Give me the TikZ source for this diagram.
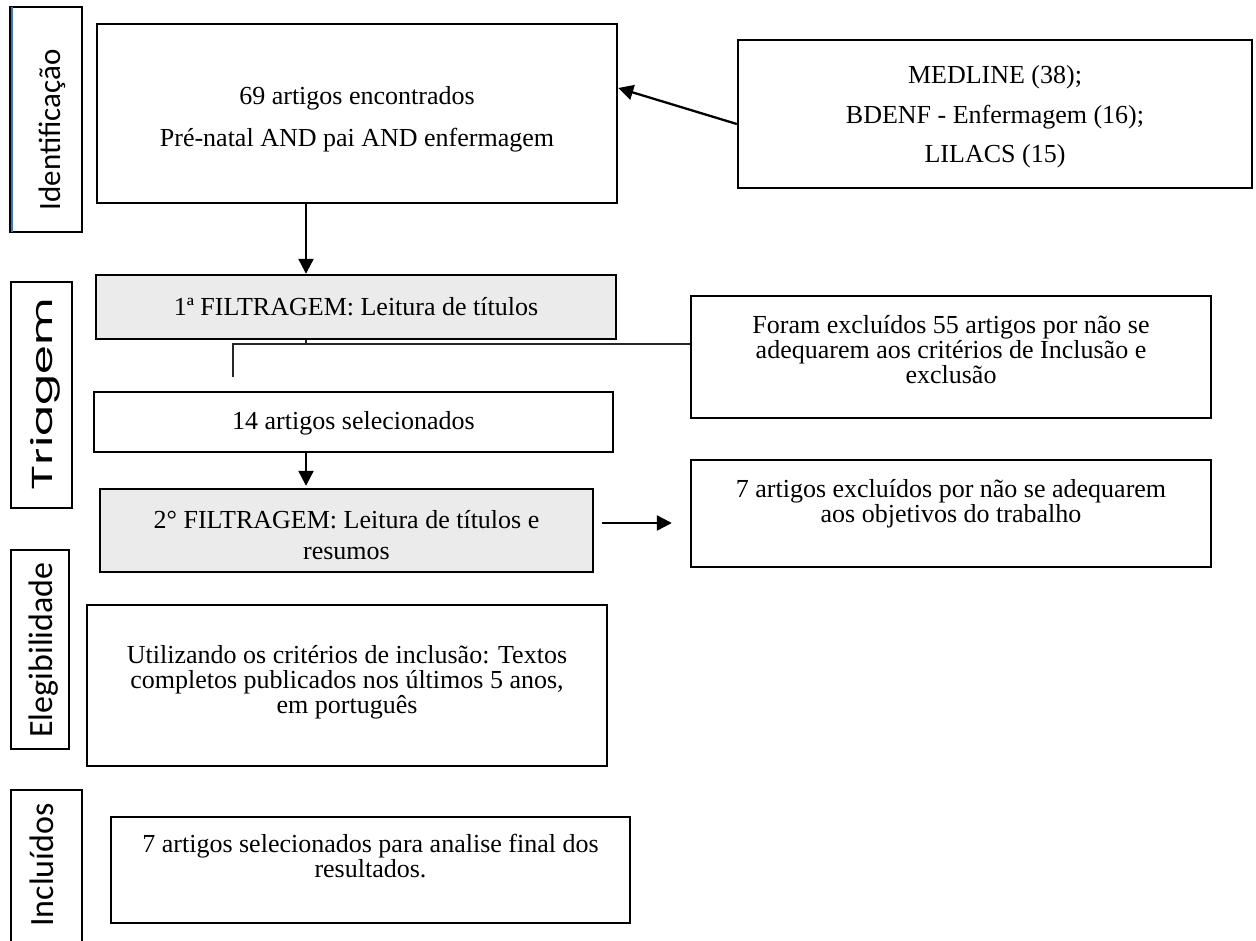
\documentclass[tikz,border=0pt]{standalone}
\usepackage{fontspec}
\setmainfont{Liberation Serif}
\newfontfamily\labelfont{Carlito}
\newfontfamily\roundfont{Poppins}
\usetikzlibrary{arrows.meta,calc}

\definecolor{filtergray}{RGB}{235,235,235}
\definecolor{edgeblue}{RGB}{68,114,196}

\tikzset{
  box/.style={draw, line width=2.4pt, rectangle, inner sep=0pt},
  filterbox/.style={box, fill=filtergray},
  stagebox/.style={draw, line width=2.2pt, rectangle, inner sep=0pt},
  txt/.style={font=\fontsize{26}{29}\selectfont, inner sep=0pt, anchor=base,
              text height=16pt, text depth=5pt},
  stagetxt/.style={inner sep=0pt, anchor=base, rotate=90},
  arr/.style={line width=2.3pt, -{Triangle[length=15pt,width=15pt]}},
  conn/.style={line width=1.5pt, draw=black!85}
}

\begin{document}
\begin{tikzpicture}[x=1pt, y=-1pt]
\useasboundingbox (0,0) rectangle (1256,940);
\clip (0,0) rectangle (1256,940);

% ---- stage labels on the left ----
\node[stagebox, minimum width=72pt, minimum height=225pt] (stId) at (46,119.5) {};
\draw[edgeblue, line width=1.6pt] ($(stId.north west)+(2.8,1.5)$) -- ($(stId.south west)+(2.8,-1.5)$);
\node[stagetxt] (stIdT) at (60,130) {\labelfont\fontsize{31}{34}\selectfont Identificação};

\node[stagebox, minimum width=61pt, minimum height=226pt] (stTr) at (41.5,395) {};
\node[stagetxt] (stTrT) at (52,394) {\resizebox{192pt}{22pt}{\roundfont Triagem}};

\node[stagebox, minimum width=58pt, minimum height=199pt] (stEl) at (40,649.5) {};
\node[stagetxt] (stElT) at (52,650) {\labelfont\fontsize{34}{36}\selectfont Elegibilidade};

\node[stagebox, minimum width=71pt, minimum height=160pt] (stIn) at (46.5,870) {};
\node[stagetxt] (stInT) at (53,865) {\labelfont\fontsize{34}{36}\selectfont Incluídos};

% ---- flow boxes ----
\node[box, minimum width=520pt, minimum height=179pt] (found) at (357,113.5) {};
\node[txt] (foundA) at (357,104) {69 artigos encontrados};
\node[txt] (foundB) at (357,146) {Pré-natal AND pai AND enfermagem};

\node[box, minimum width=514pt, minimum height=148pt] (bases) at (995,114) {};
\node[txt] (basesA) at (995,83) {MEDLINE (38);};
\node[txt] (basesB) at (995,123) {BDENF - Enfermagem (16);};
\node[txt] (basesC) at (995,162) {LILACS (15)};

\node[filterbox, minimum width=520pt, minimum height=64pt] (filt1) at (356,307) {};
\node[txt] (filt1T) at (356,315) {1ª FILTRAGEM: Leitura de títulos};

\node[box, minimum width=520pt, minimum height=122pt] (excl1) at (951,357) {};
\node[txt] (excl1A) at (951,333) {Foram excluídos 55 artigos por não se};
\node[txt] (excl1B) at (951,358) {adequarem aos critérios de Inclusão e};
\node[txt] (excl1C) at (951,383) {exclusão};

\node[box, minimum width=519pt, minimum height=60pt] (sel14) at (353.5,422) {};
\node[txt] (sel14T) at (353.5,429) {14 artigos selecionados};

\node[filterbox, minimum width=493pt, minimum height=83pt] (filt2) at (346.5,530.5) {};
\node[txt] (filt2A) at (346.5,528) {2° FILTRAGEM: Leitura de títulos e};
\node[txt] (filt2B) at (346.5,559) {resumos};

\node[box, minimum width=520pt, minimum height=107pt] (excl2) at (951,513.5) {};
\node[txt] (excl2A) at (951,497) {7 artigos excluídos por não se adequarem};
\node[txt] (excl2B) at (951,522) {aos objetivos do trabalho};

\node[box, minimum width=520pt, minimum height=161pt] (crit) at (347,685.5) {};
\node[txt] (critA) at (347,663) {Utilizando os critérios de inclusão: Textos};
\node[txt] (critB) at (347,688) {completos publicados nos últimos 5 anos,};
\node[txt] (critC) at (347,713) {em português};

\node[box, minimum width=519pt, minimum height=106pt] (final) at (370.5,870) {};
\node[txt] (finalA) at (370.5,852) {7 artigos selecionados para analise final dos};
\node[txt] (finalB) at (370.5,877) {resultados.};

% ---- connectors ----
\coordinate (spine) at (306,0);
\coordinate (branch) at (233,344);
\coordinate (stub) at (233,377);
\coordinate (sideY) at (0,523);

\draw[arr] ($(bases.west)+(0,10)$) -- ($(found.east)+(0,-25.5)$);
\draw[arr] (found.south -| spine) -- (filt1.north -| spine);
\draw[conn] (filt1.south -| spine) -- (spine |- branch);
\draw[conn] (stub) -- (branch) -- (excl1.west |- branch);
\draw[arr, shorten >=2pt] (sel14.south -| spine) -- (filt2.north -| spine);
\draw[arr, shorten <=8pt, shorten >=18pt] (filt2.east |- sideY) -- (excl2.west |- sideY);
\end{tikzpicture}
\end{document}
